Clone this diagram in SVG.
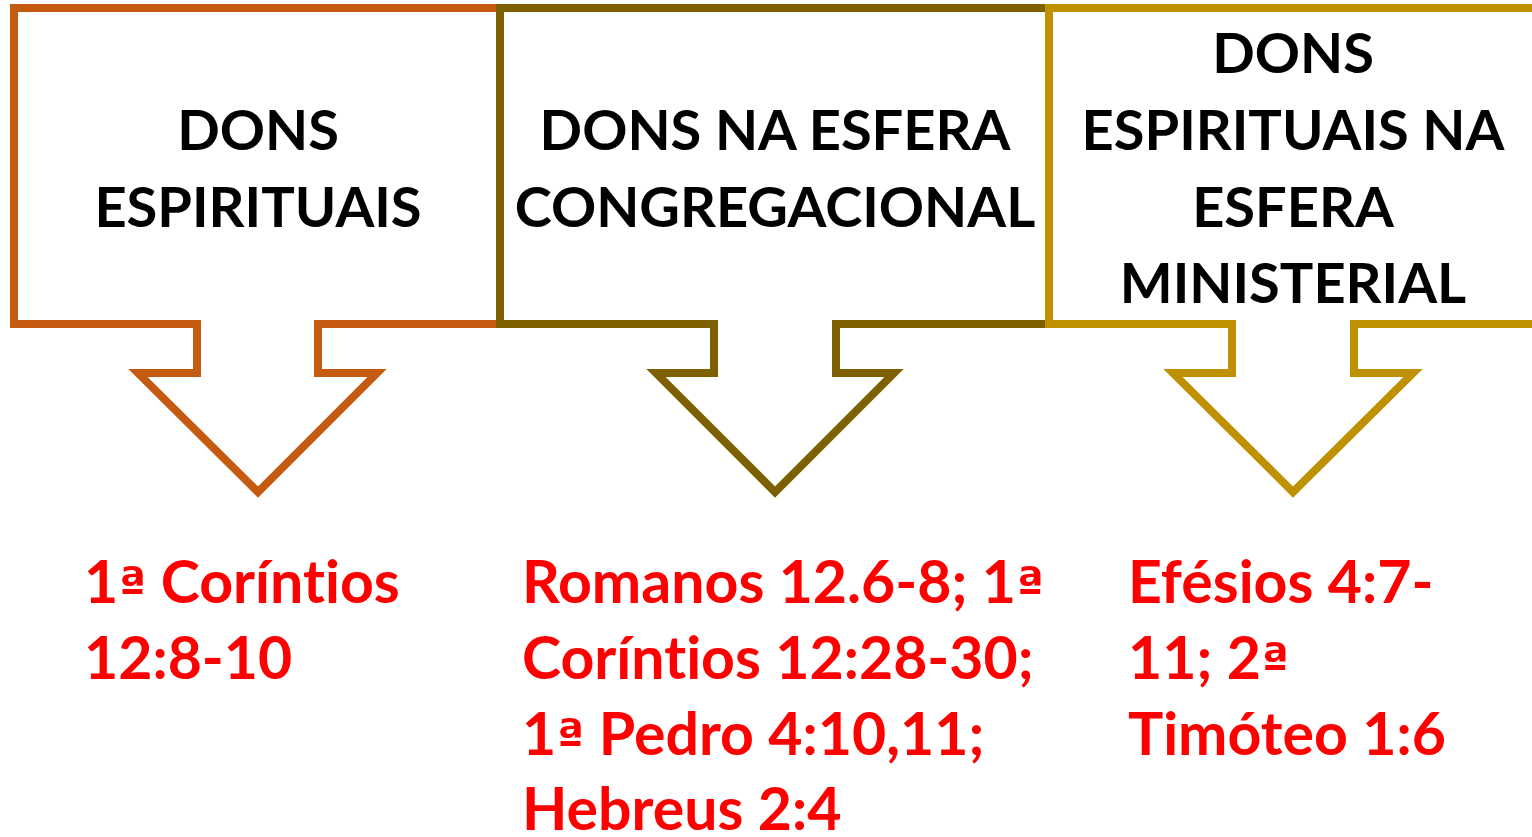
<svg xmlns="http://www.w3.org/2000/svg" width="1532" height="837" viewBox="0 0 1532 837">
<style>
.shape{fill:#FFFFFF;stroke-width:8;stroke-linejoin:miter;stroke-miterlimit:10}
.h{font-family:Lato,"Open Sans",sans-serif;font-weight:700;font-size:56px;fill:#000000;text-anchor:middle}
.r{font-family:Lato,"Open Sans",sans-serif;font-weight:700;font-size:59px;fill:#FF0000;font-variant-ligatures:none}
.o{font-family:"DejaVu Sans",sans-serif;font-size:50px}
</style>
<rect width="1532" height="837" fill="#FFFFFF"/>
<g id="node1">
<path class="shape" stroke="#C55A11" d="M14,8 H501 V324 H318 V373 H377 L258,492 L138,373 H197 V324 H14 Z"/>
<text class="h" x="258" y="150">DONS</text>
<text class="h" x="258" y="227">ESPIRITUAIS</text>
</g>
<g id="node2">
<path class="shape" stroke="#7F6000" d="M500,8 H1049 V324 H836 V373 H894 L775,492 L656,373 H714 V324 H500 Z"/>
<text class="h" x="775" y="150">DONS NA ESFERA</text>
<text class="h" x="775" y="227">CONGREGACIONAL</text>
</g>
<g id="node3">
<path class="shape" stroke="#BF9000" d="M1049,8 H1545 V324 H1354 V373 H1413 L1293,492 L1173,373 H1232 V324 H1049 Z"/>
<text class="h" x="1293" y="73">DONS</text>
<text class="h" x="1293" y="150">ESPIRITUAIS NA</text>
<text class="h" x="1293" y="227">ESFERA</text>
<text class="h" x="1293" y="303">MINISTERIAL</text>
</g>
<g id="refs1">
<text class="r" x="84" y="603">1<tspan class="o">ª</tspan> Coríntios</text>
<text class="r" x="84" y="679">12:8-10</text>
</g>
<g id="refs2">
<text class="r" x="522" y="603">Romanos 12.6-8; 1<tspan class="o">ª</tspan></text>
<text class="r" x="522" y="679">Coríntios 12:28-30;</text>
<text class="r" x="522" y="755">1<tspan class="o">ª</tspan> Pedro 4:10,11;</text>
<text class="r" x="522" y="830">Hebreus 2:4</text>
</g>
<g id="refs3">
<text class="r" x="1128" y="603">Efésios 4:7-</text>
<text class="r" x="1128" y="679">11; 2<tspan class="o">ª</tspan></text>
<text class="r" x="1128" y="755">Timóteo 1:6</text>
</g>
<g id="connectors"></g>
</svg>
